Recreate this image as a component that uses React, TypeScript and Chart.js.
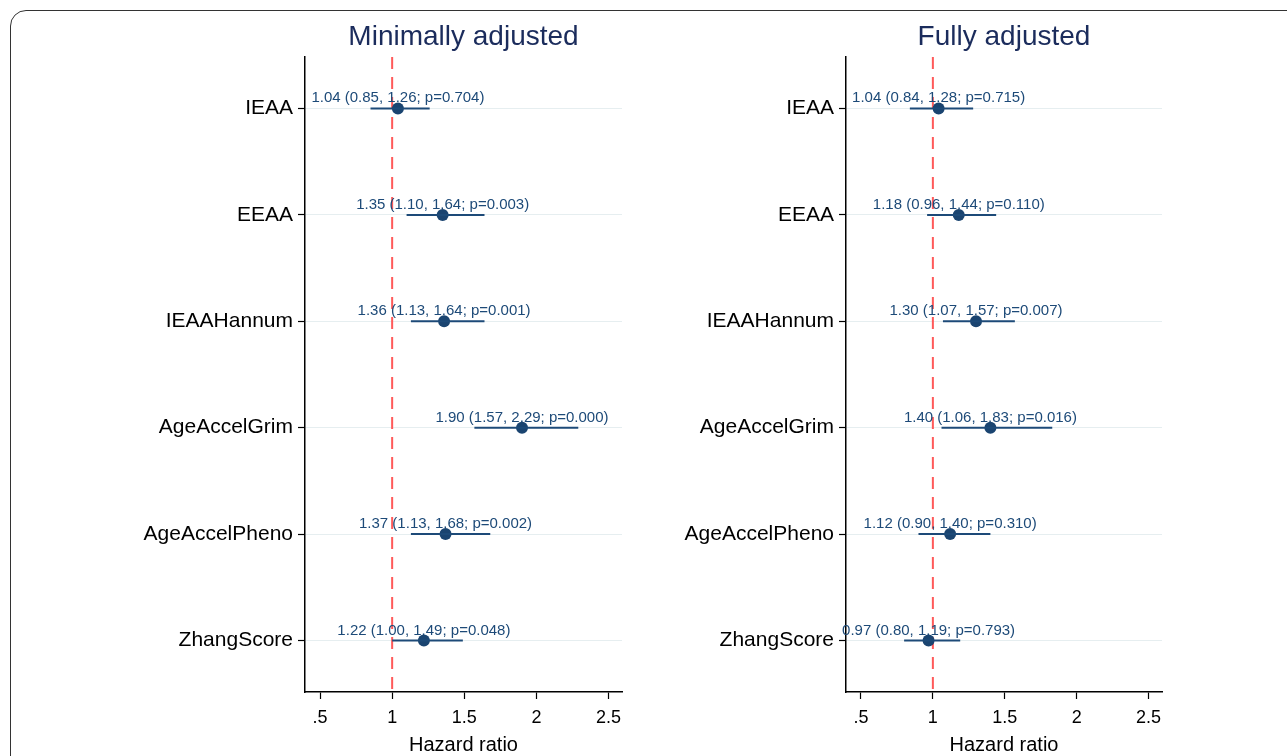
import React, { useEffect, useRef } from "react";
import { Chart, registerables } from "chart.js";

Chart.register(...registerables);

const FONT = '"Liberation Sans", Arial, Helvetica, sans-serif';

const categories = ["IEAA", "EEAA", "IEAAHannum", "AgeAccelGrim", "AgeAccelPheno", "ZhangScore"];

const minHR = [1.04, 1.35, 1.36, 1.9, 1.37, 1.22];
const minLo = [0.85, 1.1, 1.13, 1.57, 1.13, 1.0];
const minHi = [1.26, 1.64, 1.64, 2.29, 1.68, 1.49];
const minP = [0.704, 0.003, 0.001, 0.0, 0.002, 0.048];

const fullHR = [1.04, 1.18, 1.3, 1.4, 1.12, 0.97];
const fullLo = [0.84, 0.96, 1.07, 1.06, 0.9, 0.8];
const fullHi = [1.28, 1.44, 1.57, 1.83, 1.4, 1.19];
const fullP = [0.715, 0.11, 0.007, 0.016, 0.31, 0.793];

const xTickValues = [0.5, 1, 1.5, 2, 2.5];
const xTickLabels = [".5", "1", "1.5", "2", "2.5"];
const refValue = 1;

const NAVY = "#1d4a78";
const DOT = "#1a4470";
const TITLE = "#1b2c5c";

type PanelProps = {
  title: string;
  hr: number[];
  lo: number[];
  hi: number[];
  p: number[];
  left: number;
  width: number;
  axisWidth: number;
  rightPad: number;
};

function Panel({ title, hr, lo, hi, p, left, width, axisWidth, rightPad }: PanelProps) {
  const ref = useRef<HTMLCanvasElement | null>(null);

  useEffect(() => {
    if (!ref.current) return;
    const ciSets = hr.map((_, i) => ({
      type: "line" as const,
      data: [
        { x: lo[i], y: i + 1 },
        { x: hi[i], y: i + 1 },
      ],
      borderColor: NAVY,
      borderWidth: 2,
      pointRadius: 0,
      showLine: true,
      fill: false,
    }));
    const pointSet = {
      type: "scatter" as const,
      data: hr.map((v, i) => ({ x: v, y: i + 1 })),
      backgroundColor: DOT,
      borderWidth: 0,
      pointRadius: 6,
    };

    const overlay = {
      id: "overlay",
      beforeDatasetsDraw(chart: any) {
        const { ctx, chartArea, scales } = chart;
        const x = scales.x;
        const y = scales.y;
        const px = x.getPixelForValue(refValue);
        ctx.save();
        ctx.strokeStyle = "#ff5a5a";
        ctx.lineWidth = 2;
        ctx.setLineDash([12, 8]);
        ctx.beginPath();
        ctx.moveTo(px, chartArea.top);
        ctx.lineTo(px, chartArea.bottom);
        ctx.stroke();
        ctx.setLineDash([]);
        ctx.font = `15px ${FONT}`;
        ctx.fillStyle = NAVY;
        ctx.textAlign = "center";
        ctx.textBaseline = "alphabetic";
        hr.forEach((v, i) => {
          const txt = `${v.toFixed(2)} (${lo[i].toFixed(2)}, ${hi[i].toFixed(2)}; p=${p[i].toFixed(3)})`;
          ctx.fillText(txt, x.getPixelForValue(v), y.getPixelForValue(i + 1) - 6);
        });
        ctx.restore();
      },
      afterDraw(chart: any) {
        const { ctx, chartArea } = chart;
        ctx.save();
        ctx.font = `28px ${FONT}`;
        ctx.fillStyle = TITLE;
        ctx.textAlign = "center";
        ctx.textBaseline = "alphabetic";
        ctx.fillText(title, (chartArea.left + chartArea.right) / 2, 45);
        ctx.restore();
      },
    };

    const chart = new Chart(ref.current, {
      type: "scatter",
      data: { datasets: [...ciSets, pointSet] as any },
      options: {
        animation: false,
        responsive: false,
        devicePixelRatio: 1,
        layout: { padding: { top: 57, right: rightPad, left: 0, bottom: 0 } },
        plugins: { legend: { display: false }, tooltip: { enabled: false } },
        scales: {
          x: {
            type: "linear",
            min: 0.396,
            max: 2.593,
            afterBuildTicks: (s: any) => {
              s.ticks = xTickValues.map((v) => ({ value: v }));
            },
            afterFit: (s: any) => {
              s.height = 64;
            },
            ticks: {
              color: "#000",
              font: { family: FONT, size: 18 },
              padding: 8,
              callback: (v: any) => {
                const idx = xTickValues.indexOf(Number(v));
                return idx >= 0 ? xTickLabels[idx] : "";
              },
            },
            grid: { drawOnChartArea: false, tickLength: 7, tickColor: "#000", tickWidth: 1.2 },
            border: { display: true, color: "#000", width: 1.5 },
            title: {
              display: true,
              text: "Hazard ratio",
              color: "#000",
              font: { family: FONT, size: 20, lineHeight: 1.0 },
              padding: { top: 0, bottom: 1 },
            },
          },
          y: {
            type: "linear",
            min: 0.516,
            max: 6.484,
            reverse: true,
            afterBuildTicks: (s: any) => {
              s.ticks = categories.map((_, i) => ({ value: i + 1 }));
            },
            afterFit: (s: any) => {
              s.width = axisWidth;
            },
            ticks: {
              color: "#000",
              font: { family: FONT, size: 21 },
              padding: 5,
              callback: (v: any) => categories[Number(v) - 1] ?? "",
            },
            grid: {
              drawOnChartArea: true,
              color: "#e6eef0",
              lineWidth: 1,
              tickLength: 7,
              tickColor: "#000",
              tickWidth: 1.2,
            },
            border: { display: true, color: "#000", width: 1.5 },
          },
        },
      } as any,
      plugins: [overlay],
    });
    return () => chart.destroy();
  }, []);

  return (
    <canvas
      ref={ref}
      width={width}
      height={756}
      style={{ position: "absolute", left, top: 0, width, height: 756 }}
    />
  );
}

export default function App() {
  return (
    <div
      style={{
        position: "fixed",
        left: 0,
        top: 0,
        width: 1287,
        height: 756,
        overflow: "hidden",
        background: "#fff",
      }}
    >
      <div
        style={{
          position: "absolute",
          left: 10,
          top: 10,
          width: 1320,
          height: 800,
          border: "1.5px solid #333",
          borderRadius: 16,
          boxSizing: "border-box",
        }}
      />
      <Panel
        title="Minimally adjusted"
        hr={minHR}
        lo={minLo}
        hi={minHi}
        p={minP}
        left={0}
        width={640}
        axisWidth={305}
        rightPad={18}
      />
      <Panel
        title="Fully adjusted"
        hr={fullHR}
        lo={fullLo}
        hi={fullHi}
        p={fullP}
        left={640}
        width={647}
        axisWidth={206}
        rightPad={125}
      />
    </div>
  );
}
